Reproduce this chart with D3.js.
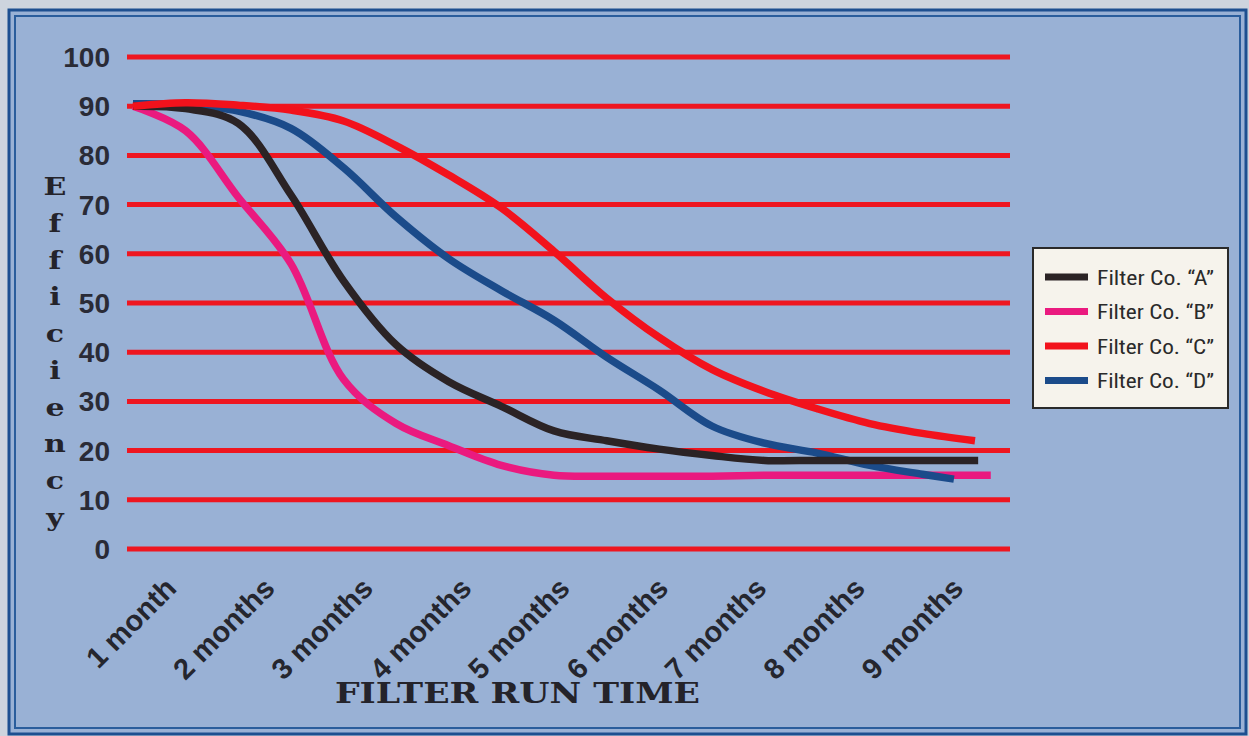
<!doctype html>
<html>
<head>
<script src="https://cdn.jsdelivr.net/npm/d3@7"></script>
<style>
    html, body { margin: 0; padding: 0; background: #cdd4de; }
    #viz { position: absolute; top: 0; left: 0; width: 1249px; height: 736px; }
</style>
</head>
<body>
<div id="viz"></div>
<script>
    // categories on the x axis
    var monthLabels = ["1 month", "2 months", "3 months", "4 months", "5 months",
                       "6 months", "7 months", "8 months", "9 months"];
    // sample positions (in months) that the curves were read at
    var samples = [1, 1.5, 2, 2.5, 3, 3.5, 4, 4.5, 5, 5.5, 6, 6.5, 7, 7.5, 8, 8.5, 9];
    var yTicks = [0, 10, 20, 30, 40, 50, 60, 70, 80, 90, 100];

    var seriesNames = ["Filter Co. \u201cA\u201d", "Filter Co. \u201cB\u201d",
                       "Filter Co. \u201cC\u201d", "Filter Co. \u201cD\u201d"];
    var filterA = [90, 89.5, 86.5, 72, 54.5, 41.5, 34, 29, 24, 22, 20.3, 19, 18, 18, 18, 18, 18];
    var filterB = [90, 85, 71.5, 58, 34.5, 25.5, 21, 17, 15, 14.8, 14.8, 14.8, 15, 15, 15, 15, 15];
    var filterC = [90, 90.7, 90.2, 89.2, 87, 82, 76, 69.3, 60.5, 51, 43, 36.5, 32, 28.5, 25.5, 23.5, 22];
    var filterD = [90.5, 90.3, 89, 85.5, 77.5, 67.5, 59, 52.5, 46.5, 39, 32.3, 25, 21.5, 19.5, 17, 15.2, 14.2];
    // where each curve stops (month)
    var endMonth = [9.03, 9.15, 9.0, 8.8];
    var colors = ["#2b2325", "#ea1a7f", "#f2121c", "#1b4b8a"];

    var W = 1249, H = 736;
    var svg = d3.select("#viz").append("svg")
        .attr("width", W).attr("height", H);

    // frame
    svg.append("rect").attr("x", 9).attr("y", 10).attr("width", W - 12).attr("height", H - 12)
        .attr("fill", "#99b1d5").attr("stroke", "#1d4f90").attr("stroke-width", 3);
    svg.append("rect").attr("x", 15).attr("y", 16).attr("width", W - 24).attr("height", H - 24)
        .attr("fill", "none").attr("stroke", "#2a5d9c").attr("stroke-width", 2);

    var y = d3.scaleLinear().domain([0, 100]).range([549, 57]);
    var x = d3.scaleLinear().domain([1, 9]).range([133, 975]);
    var xLab = d3.scalePoint().domain(monthLabels).range([178, 965]);

    // grid lines
    svg.append("g").selectAll("line").data(yTicks).enter().append("line")
        .attr("x1", 127).attr("x2", 1010)
        .attr("y1", function (d) { return y(d); })
        .attr("y2", function (d) { return y(d); })
        .attr("stroke", "#ee1620").attr("stroke-width", 5);

    // y tick labels
    svg.append("g").selectAll("text").data(yTicks).enter().append("text")
        .attr("x", 110)
        .attr("y", function (d) { return y(d); })
        .attr("dy", "0.36em")
        .attr("text-anchor", "end")
        .attr("font-family", "Liberation Sans, Arial, sans-serif")
        .attr("font-weight", "bold").attr("font-size", 28)
        .attr("fill", "#2a2b36")
        .text(function (d) { return d; });

    // y title, stacked letters
    var yTitle = "Efficiency".split("");
    var titleY = d3.scalePoint().domain(d3.range(yTitle.length)).range([195, 526]);
    svg.append("g").selectAll("text").data(yTitle).enter().append("text")
        .attr("transform", function (d, i) { return "translate(55," + titleY(i) + ") scale(1.2,1)"; })
        .attr("text-anchor", "middle")
        .attr("font-family", "DejaVu Serif, Liberation Serif, serif")
        .attr("font-weight", "bold").attr("font-size", 25)
        .attr("fill", "#24232a")
        .text(function (d) { return d; });

    // x labels
    svg.append("g").selectAll("text").data(monthLabels).enter().append("text")
        .attr("transform", function (d) { return "translate(" + xLab(d) + ",590) rotate(-45)"; })
        .attr("text-anchor", "end")
        .attr("font-family", "Liberation Sans, Arial, sans-serif")
        .attr("font-weight", "bold").attr("font-size", 29)
        .attr("fill", "#25262e")
        .text(function (d) { return d; });

    svg.append("text")
        .attr("x", 335).attr("y", 703)
        .attr("textLength", 365).attr("lengthAdjust", "spacingAndGlyphs")
        .attr("font-family", "DejaVu Serif, Liberation Serif, serif")
        .attr("font-weight", "bold").attr("font-size", 27)
        .attr("fill", "#24232a")
        .text("FILTER RUN TIME");

    // curves
    var allSeries = [filterA, filterB, filterC, filterD];
    var line = d3.line()
        .x(function (d) { return x(d[0]); })
        .y(function (d) { return y(d[1]); })
        .curve(d3.curveCatmullRom.alpha(0.5));

    // draw order: B, D, A, C (red on top at the start)
    [1, 3, 0, 2].forEach(function (k) {
        var pts = samples.map(function (m, i) {
            return [i === samples.length - 1 ? endMonth[k] : m, allSeries[k][i]];
        });
        svg.append("path")
            .attr("d", line(pts))
            .attr("fill", "none")
            .attr("stroke", colors[k])
            .attr("stroke-width", 7.5)
            .attr("stroke-linecap", "butt")
            .attr("stroke-linejoin", "round");
    });

    // legend
    var lg = svg.append("g").attr("transform", "translate(1033,248)");
    lg.append("rect").attr("width", 195).attr("height", 160)
        .attr("fill", "#f6f3ec").attr("stroke", "#2a2a2a").attr("stroke-width", 2);
    var rows = lg.selectAll("g").data(seriesNames).enter().append("g")
        .attr("transform", function (d, i) { return "translate(0," + (29 + i * 34.5) + ")"; });
    rows.append("line").attr("x1", 12).attr("x2", 55)
        .attr("stroke", function (d, i) { return colors[i]; })
        .attr("stroke-width", 7);
    rows.append("text").attr("x", 64).attr("dy", "0.36em")
        .attr("textLength", 117).attr("lengthAdjust", "spacingAndGlyphs")
        .attr("font-family", "Liberation Sans Narrow, Roboto Condensed, Liberation Sans, sans-serif")
        .attr("font-size", 21)
        .attr("fill", "#2a2a2a")
        .text(function (d) { return d; });
</script>
</body>
</html>
